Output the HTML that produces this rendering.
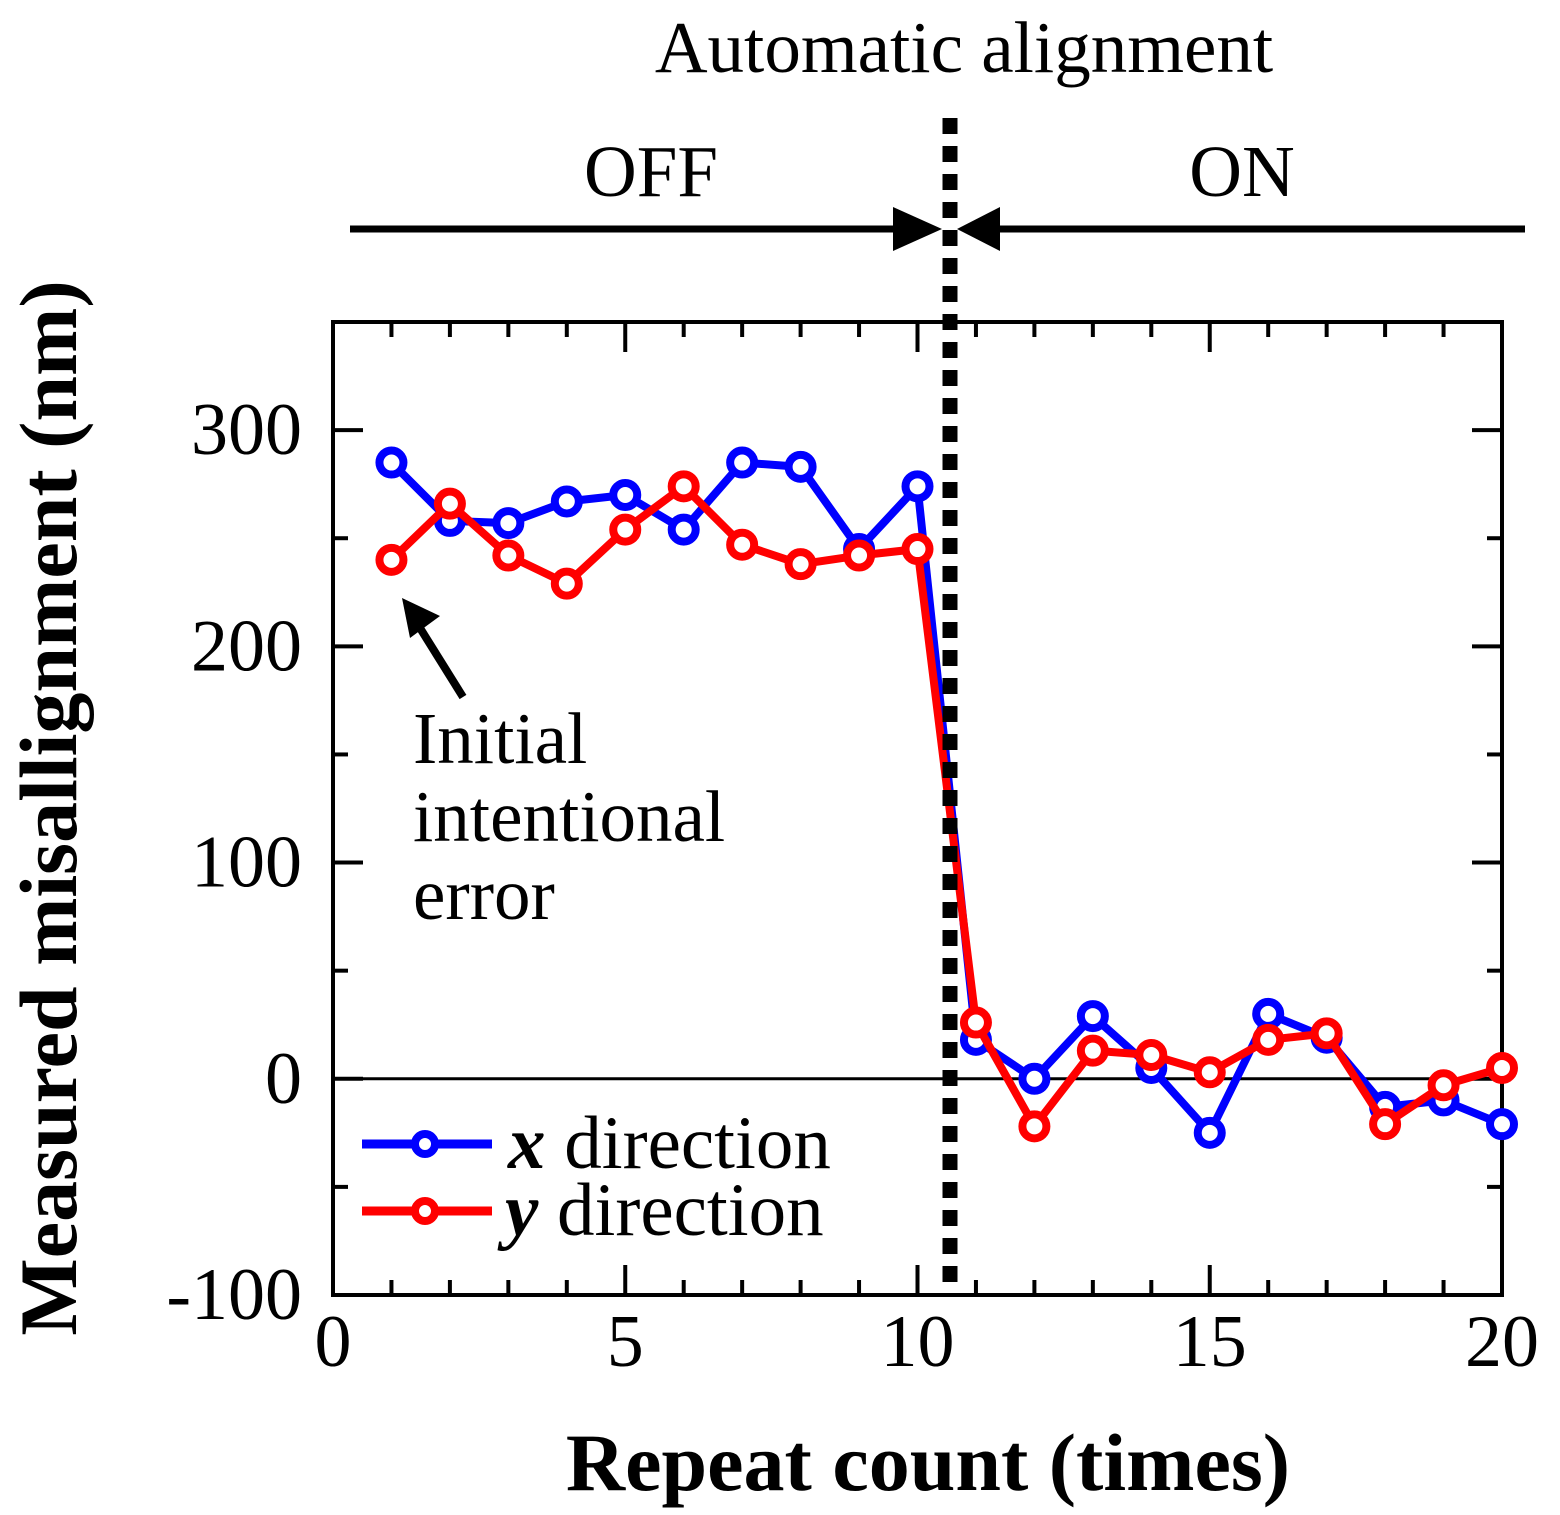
<!DOCTYPE html>
<html><head><meta charset="utf-8"><style>body{margin:0;background:#fff}svg{display:block}text{font-family:"Liberation Serif",serif}</style></head>
<body>
<svg id="c" width="1560" height="1515" xmlns="http://www.w3.org/2000/svg"></svg>
<script>
const counts=[1,2,3,4,5,6,7,8,9,10,11,12,13,14,15,16,17,18,19,20];
const xDir=[285,258,257,267,270,254,285,283,245,274,18,0,29,5,-25,30,19,-13,-10,-21];
const yDir=[240,266,242,229,254,274,247,238,242,245,26,-22,13,11,3,18,21,-21,-3,5];
const xTicks=[0,5,10,15,20];
const yTicks=[-100,0,100,200,300];
const L=333,R=1502,T=322,B=1295;
const sx=v=>L+v*(R-L)/20;
const sy=v=>B-(v+100)*(B-T)/450;
const svg=document.getElementById('c');
const NS='http://www.w3.org/2000/svg';
function mk(tag,a,name,txt){const e=document.createElementNS(NS,tag);for(const k in a)e.setAttribute(k,a[k]);


if(txt!==undefined)e.textContent=txt;svg.appendChild(e);return e;}
mk('rect',{x:L,y:T,width:R-L,height:B-T,fill:'none',stroke:'#000','stroke-width':4},'plot-frame');
for(let i=0;i<=20;i++){const len=i%5==0?30:15;
mk('line',{x1:sx(i),x2:sx(i),y1:B,y2:B-len,stroke:'#000','stroke-width':4},'x-tick');
mk('line',{x1:sx(i),x2:sx(i),y1:T,y2:T+len,stroke:'#000','stroke-width':4},'x-tick-top');}
for(let v=-100;v<=350;v+=50){const len=v%100==0?30:15;
mk('line',{x1:L,x2:L+len,y1:sy(v),y2:sy(v),stroke:'#000','stroke-width':4},'y-tick');
mk('line',{x1:R,x2:R-len,y1:sy(v),y2:sy(v),stroke:'#000','stroke-width':4},'y-tick-right');}
xTicks.forEach(v=>mk('text',{x:sx(v),y:1366,'font-size':74,'text-anchor':'middle'},'x-tick-label',v));
yTicks.forEach(v=>mk('text',{x:302,y:sy(v)+24,'font-size':74,'text-anchor':'end'},'y-tick-label',v));
mk('line',{x1:L,x2:R,y1:sy(0),y2:sy(0),stroke:'#000','stroke-width':3},'zero-line');
function series(d,col,name){
mk('polyline',{points:counts.map((c,i)=>sx(c)+','+sy(d[i])).join(' '),fill:'none',stroke:col,'stroke-width':8,'stroke-linejoin':'round'},name+'-line');
counts.forEach((c,i)=>mk('circle',{cx:sx(c),cy:sy(d[i]),r:12,fill:'#fff',stroke:col,'stroke-width':8},name+'-point'));}
series(xDir,'#0000ff','x-direction');
series(yDir,'#ff0000','y-direction');
mk('line',{x1:950,x2:950,y1:118,y2:1295,stroke:'#000','stroke-width':15,'stroke-dasharray':'16,12'},'alignment-divider');
mk('text',{x:964,y:72,'font-size':73,'text-anchor':'middle'},'top-title','Automatic alignment');
mk('text',{x:651,y:196,'font-size':73,'text-anchor':'middle'},'off-label','OFF');
mk('text',{x:1242,y:196,'font-size':73,'text-anchor':'middle'},'on-label','ON');
mk('line',{x1:350,x2:900,y1:229,y2:229,stroke:'#000','stroke-width':7},'off-arrow-line');
mk('polygon',{points:'893,207 942,229 893,251',fill:'#000'},'off-arrowhead');
mk('line',{x1:995,x2:1525,y1:229,y2:229,stroke:'#000','stroke-width':7},'on-arrow-line');
mk('polygon',{points:'1000,207 957,229 1000,251',fill:'#000'},'on-arrowhead');
mk('line',{x1:463,x2:420,y1:697,y2:628,stroke:'#000','stroke-width':8},'annotation-arrow-line');
mk('polygon',{points:'402,598 440,616 410,638',fill:'#000'},'annotation-arrowhead');
['Initial','intentional','error'].forEach((t,i)=>mk('text',{x:413,y:763+i*78,'font-size':73},'annotation-text',t));
mk('line',{x1:362,x2:492,y1:1144,y2:1144,stroke:'#0000ff','stroke-width':9},'legend-x-line');
mk('circle',{cx:425,cy:1144,r:10,fill:'#fff',stroke:'#0000ff','stroke-width':8},'legend-x-marker');
mk('text',{x:508,y:1168,'font-size':75},'legend-x-label').innerHTML='<tspan font-style="italic" font-weight="bold">x</tspan> direction';
mk('line',{x1:362,x2:492,y1:1211,y2:1211,stroke:'#ff0000','stroke-width':9},'legend-y-line');
mk('circle',{cx:425,cy:1211,r:10,fill:'#fff',stroke:'#ff0000','stroke-width':8},'legend-y-marker');
mk('text',{x:505,y:1235,'font-size':75},'legend-y-label').innerHTML='<tspan font-style="italic" font-weight="bold">y</tspan> direction';
mk('text',{x:928,y:1490,'font-size':82,'font-weight':'bold','text-anchor':'middle'},'x-axis-title','Repeat count (times)');
mk('text',{x:0,y:0,'font-size':82,'font-weight':'bold','text-anchor':'middle',transform:'translate(76,808) rotate(-90)'},'y-axis-title','Measured misallignment (nm)');
</script>
</body></html>
